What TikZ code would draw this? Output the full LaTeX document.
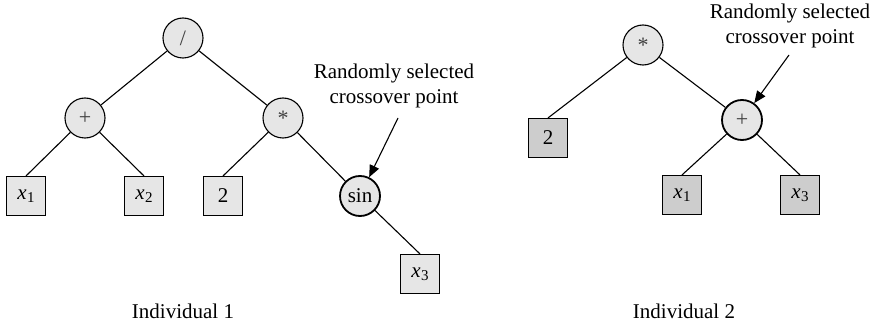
\documentclass[tikz,border=0pt]{standalone}
\usepackage{fontspec}
\setmainfont{Liberation Serif}
\usetikzlibrary{arrows.meta}
\definecolor{lightfill}{HTML}{E6E6E6}
\definecolor{darkfill}{HTML}{CDCDCD}
\definecolor{symgray}{HTML}{404040}
\newcommand{\var}[1]{\textit{x}\kern0.5pt\raisebox{-0.35ex}{\fontsize{15}{15}\selectfont #1}}
\tikzset{
  every node/.style={font=\fontsize{21}{25}\selectfont},
  opnode/.style={circle, draw, line width=1.1pt, fill=lightfill, minimum size=40pt, inner sep=0pt},
  symnode/.style={opnode, text=symgray, font=\fontsize{22}{24}\selectfont},
  selnode/.style={opnode, line width=1.8pt},
  leafbox/.style={rectangle, draw, line width=1.1pt, fill=lightfill, minimum size=39pt, inner sep=0pt},
  darkbox/.style={leafbox, fill=darkfill},
  edge/.style={line width=1.1pt},
  pointer/.style={line width=1.1pt, -{Triangle[length=12pt,width=10pt]}},
  lbl/.style={align=center, font=\fontsize{21}{25}\selectfont}
}
\begin{document}
\begin{tikzpicture}[x=1pt,y=-1pt]
\useasboundingbox (0,0) rectangle (878,326);
% Individual 1
\node[symnode] (div) at (183,38) {/};
\node[symnode] (plusA) at (85,118) {+};
\node[symnode] (mulA) at (283,118) {\raisebox{-0.3ex}{*}};
\node[leafbox] (xa1) at (26,196) {\var{1}};
\node[leafbox] (xa2) at (144,196) {\var{2}};
\node[leafbox] (twoA) at (223,196) {2};
\node[selnode] (sin) at (360,196) {sin};
\node[leafbox] (xa3) at (420,274) {\var{3}};
\draw[edge] (div) -- (plusA);
\draw[edge] (div) -- (mulA);
\draw[edge] (plusA) -- (xa1.north);
\draw[edge] (plusA) -- (xa2.north);
\draw[edge] (mulA) -- (twoA.north);
\draw[edge] (mulA) -- (sin);
\draw[edge] (sin) -- (xa3.north);
\node[lbl] (labA) at (394,86) {Randomly selected\\crossover point};
\coordinate (arrA) at (398,118);
\draw[pointer] (arrA) -- (sin);
\node (indA) at (183,311) {Individual 1};
% Individual 2
\node[symnode] (mulB) at (643,45) {\raisebox{-0.3ex}{*}};
\node[darkbox] (twoB) at (548,138) {2};
\node[symnode, line width=1.8pt] (plusB) at (742,120) {+};
\node[darkbox] (xb1) at (682,195) {\var{1}};
\node[darkbox] (xb3) at (800,195) {\var{3}};
\draw[edge] (mulB) -- (twoB.north);
\draw[edge] (mulB) -- (plusB);
\draw[edge] (plusB) -- (xb1.north);
\draw[edge] (plusB) -- (xb3.north);
\node[lbl] (labB) at (790,26) {Randomly selected\\crossover point};
\coordinate (arrB) at (789,55);
\draw[pointer] (arrB) -- (plusB);
\node (indB) at (684,311) {Individual 2};
\end{tikzpicture}
\end{document}
